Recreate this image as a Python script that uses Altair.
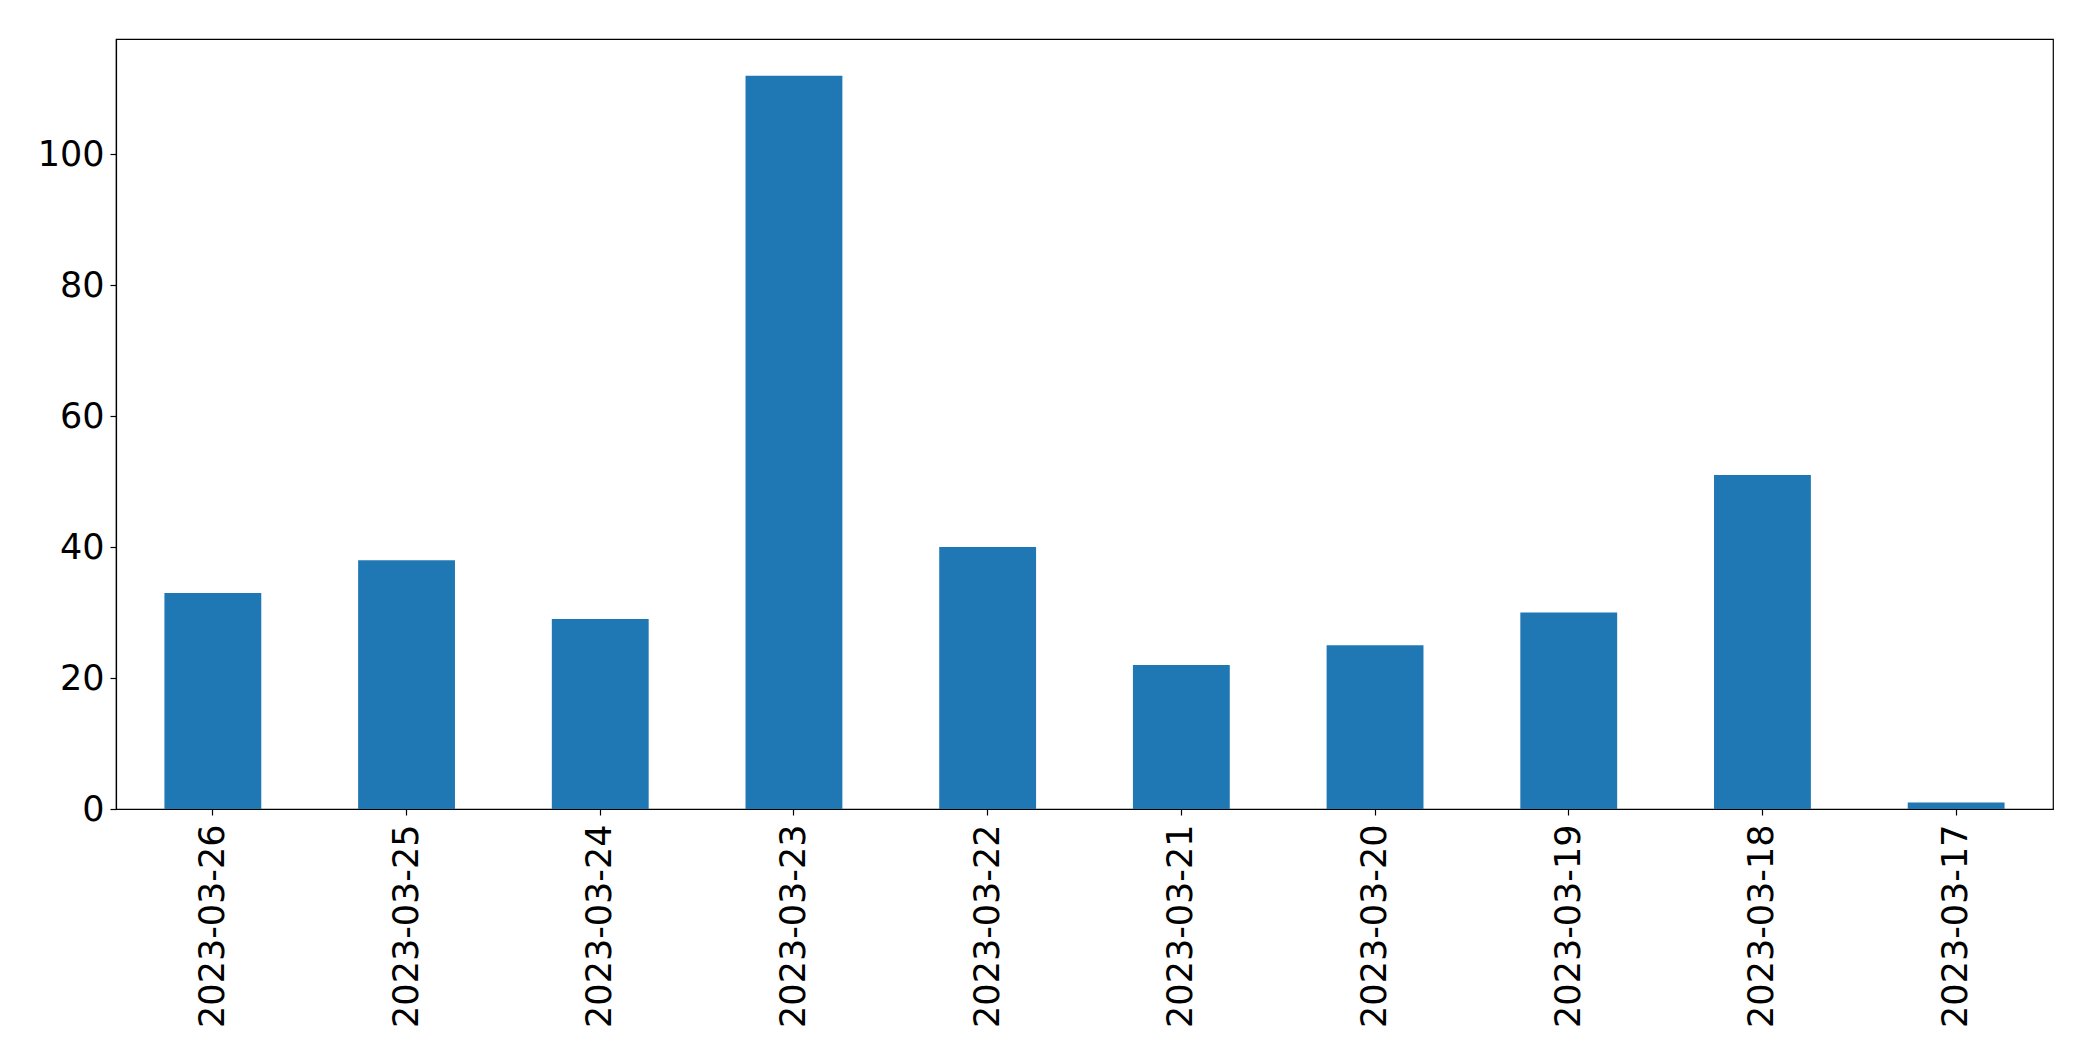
import altair as alt
import pandas as pd

dates = ["2023-03-26", "2023-03-25", "2023-03-24", "2023-03-23", "2023-03-22",
         "2023-03-21", "2023-03-20", "2023-03-19", "2023-03-18", "2023-03-17"]
counts = [33, 38, 29, 112, 40, 22, 25, 30, 51, 1]
y_ticks = [0, 20, 40, 60, 80, 100]

df = pd.DataFrame({"date": dates, "count": counts})

chart = alt.Chart(df).mark_bar(color="#1f77b4").encode(
    x=alt.X("date:N", sort=dates, title=None,
            scale=alt.Scale(paddingInner=0.5, paddingOuter=0.25),
            axis=alt.Axis(labelAngle=270, labelAlign="right", labelBaseline="middle",
                          labelPadding=9, tickSize=6, labelFontSize=35, labelLimit=0)),
    y=alt.Y("count:Q", title=None,
            scale=alt.Scale(domain=[0, 117.6], nice=False, zero=True),
            axis=alt.Axis(values=y_ticks, tickSize=6, labelPadding=6, labelFontSize=35,
                          grid=False)),
).properties(
    width=1937, height=770,
    autosize=alt.AutoSizeParams(type="none"),
    padding={"left": 108, "top": 31, "right": 30, "bottom": 240},
).configure_view(
    stroke="black", strokeWidth=1.2
).configure_axis(
    labelFont="DejaVu Sans", labelColor="black", domainColor="black",
    tickColor="black", domainWidth=1.2, tickWidth=1.2, grid=False
)

chart.save("out.html", embed_options={"renderer": "svg", "actions": False})
